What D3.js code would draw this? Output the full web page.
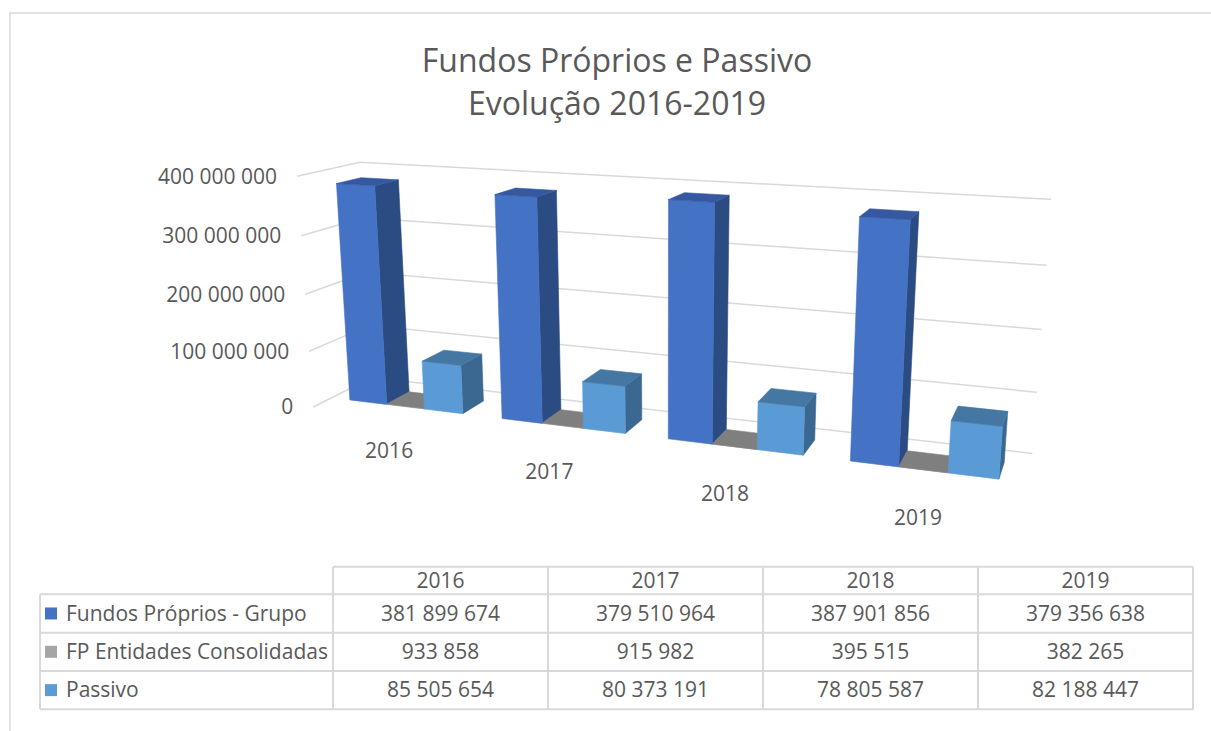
<!DOCTYPE html>
<html>
<head>
<meta charset="utf-8">
<script src="https://cdnjs.cloudflare.com/ajax/libs/d3/7.8.5/d3.min.js"></script>
<style>
    body { margin: 0; background: #fff; }
    svg { display: block; }
    text { font-family: "Open Sans", sans-serif; fill: #595959; }
</style>
</head>
<body>
<svg id="chart" width="1211" height="731"></svg>
<script>
// data
var years = ["2016", "2017", "2018", "2019"];
var seriesNames = ["Fundos Próprios - Grupo", "FP Entidades Consolidadas", "Passivo"];
var fundosGrupo = [381899674, 379510964, 387901856, 379356638];
var fpEntidades = [933858, 915982, 395515, 382265];
var passivo = [85505654, 80373191, 78805587, 82188447];
var yTicks = [0, 100000000, 200000000, 300000000, 400000000];

var seriesValues = [fundosGrupo, fpEntidades, passivo];
var faceColors = [
    {front: "#4472c4", top: "#3558a0", side: "#2b4b83"},
    {front: "#a5a5a5", top: "#7f7f7f", side: "#6d6d6d"},
    {front: "#5b9bd5", top: "#4577a3", side: "#3a6891"}
];

var svg = d3.select("#chart");

// outer chart frame
svg.append("rect")
    .attr("x", 10).attr("y", 13)
    .attr("width", 1230).attr("height", 760)
    .attr("fill", "none")
    .attr("stroke", "#d9d9d9")
    .attr("stroke-width", 1.5);

// title
var title = svg.append("text")
    .attr("text-anchor", "middle")
    .attr("font-size", 32);
title.append("tspan").attr("x", 617).attr("y", 72).text("Fundos Próprios e Passivo");
title.append("tspan").attr("x", 617).attr("y", 115).text("Evolução 2016-2019");

// world scales: x = category axis, y = value, z = depth (0 front, 1 back wall)
var xBand = d3.scaleBand().domain(years).range([0, 4]);
var xSub = d3.scaleBand().domain(seriesNames).range([0, 1]).paddingInner(0).paddingOuter(0.5);
var yScale = d3.scaleLinear().domain([0, 400000000]).range([0, 4]);
var barZ = [0.3, 0.7];

// screen position of the plot box corners (left wall front edge, back wall edges)
var frameWorld = [
    [0, 4, 0], [0, 3, 0], [0, 2, 0], [0, 1, 0], [0, 0, 0],
    [0, 4, 1], [0, 0, 1],
    [4, 4, 1], [4, 3, 1], [4, 2, 1], [4, 1, 1], [4, 0, 1]
];
var frameScreen = [
    [296.7, 176], [301.7, 236], [305, 294], [309.3, 351.7], [313.3, 406.7],
    [360, 162.3], [372, 377.6],
    [1051, 199.3], [1046.3, 265.3], [1041.7, 329.3], [1036.7, 392.5], [1032.5, 453.3]
];

// fit a 3x4 perspective camera to the frame (DLT, least squares)
function solveCamera(world, screen) {
    var rows = [], rhs = [];
    world.forEach(function (w, i) {
        var X = w[0], Y = w[1], Z = w[2], u = screen[i][0], v = screen[i][1];
        rows.push([X, Y, Z, 1, 0, 0, 0, 0, -u * X, -u * Y, -u * Z]); rhs.push(u);
        rows.push([0, 0, 0, 0, X, Y, Z, 1, -v * X, -v * Y, -v * Z]); rhs.push(v);
    });
    var n = 11, M = [];
    for (var a = 0; a < n; a++) {
        M.push([]);
        for (var b = 0; b <= n; b++) {
            var s = 0;
            for (var r = 0; r < rows.length; r++) s += rows[r][a] * (b < n ? rows[r][b] : rhs[r]);
            M[a].push(s);
        }
    }
    for (var c = 0; c < n; c++) {
        var piv = c;
        for (var r2 = c + 1; r2 < n; r2++) if (Math.abs(M[r2][c]) > Math.abs(M[piv][c])) piv = r2;
        var tmp = M[c]; M[c] = M[piv]; M[piv] = tmp;
        for (var r3 = 0; r3 < n; r3++) {
            if (r3 === c) continue;
            var f = M[r3][c] / M[c][c];
            for (var k = c; k <= n; k++) M[r3][k] -= f * M[c][k];
        }
    }
    return M.map(function (row, i) { return row[n] / row[i]; });
}

var P = solveCamera(frameWorld, frameScreen);

function project(p) {
    var w = P[8] * p[0] + P[9] * p[1] + P[10] * p[2] + 1;
    return [(P[0] * p[0] + P[1] * p[1] + P[2] * p[2] + P[3]) / w,
            (P[4] * p[0] + P[5] * p[1] + P[6] * p[2] + P[7]) / w];
}

var line = d3.line();
function poly(pts) { return line(pts.map(project)) + "Z"; }

// gridlines on side wall and back wall
svg.append("g")
    .selectAll("path")
    .data(yTicks)
    .enter().append("path")
    .attr("d", function (t) {
        var y = yScale(t);
        return line([[0, y, 0], [0, y, 1], [4, y, 1]].map(project));
    })
    .attr("fill", "none")
    .attr("stroke", "#d9d9d9")
    .attr("stroke-width", 1.5);

// value axis labels
var fmt = function (v) { return d3.format(",")(v).replace(/,/g, " "); };
svg.append("g")
    .selectAll("text")
    .data(yTicks)
    .enter().append("text")
    .attr("x", function (t) { return project([0, yScale(t), 0])[0] - 20; })
    .attr("y", function (t) { return project([0, yScale(t), 0])[1]; })
    .attr("dy", "0.35em")
    .attr("text-anchor", "end")
    .attr("font-size", 21)
    .text(fmt);

// bars
var bars = [];
years.forEach(function (yr, i) {
    seriesNames.forEach(function (s, j) {
        bars.push({year: yr, key: s, si: j, value: seriesValues[j][i]});
    });
});

var barG = svg.append("g")
    .selectAll("g")
    .data(bars)
    .enter().append("g");

barG.each(function (d) {
    var g = d3.select(this);
    var x0 = xBand(d.year) + xSub(d.key), x1 = x0 + xSub.bandwidth();
    var y1 = yScale(d.value), z0 = barZ[0], z1 = barZ[1];
    var c = faceColors[d.si];
    var faces = [
        {pts: [[x1, 0, z0], [x1, 0, z1], [x1, y1, z1], [x1, y1, z0]], fill: c.side},
        {pts: [[x0, 0, z0], [x1, 0, z0], [x1, y1, z0], [x0, y1, z0]], fill: c.front},
        {pts: [[x0, y1, z0], [x1, y1, z0], [x1, y1, z1], [x0, y1, z1]], fill: c.top}
    ];
    g.selectAll("path")
        .data(faces)
        .enter().append("path")
        .attr("d", function (f) { return poly(f.pts); })
        .attr("fill", function (f) { return f.fill; })
        .attr("stroke", function (f) { return f.fill; })
        .attr("stroke-width", 0.6)
        .attr("stroke-linejoin", "round");
});

// category labels under the floor front edge
svg.append("g")
    .selectAll("text")
    .data(years)
    .enter().append("text")
    .attr("x", function (yr) { return project([xBand(yr) + 0.5, 0, 0])[0] + 1; })
    .attr("y", function (yr) { return project([xBand(yr) + 0.5, 0, 0])[1] + 42; })
    .attr("text-anchor", "middle")
    .attr("font-size", 21)
    .text(function (yr) { return yr; });

// data table
var colX = d3.scaleBand().domain(years).range([333, 1193]);
var rowY = d3.scaleBand().domain(seriesNames).range([594.3, 709.3]);
var headTop = 566.7, tableLeft = 40;
var tbl = svg.append("g").attr("stroke", "#d9d9d9").attr("stroke-width", 2);

tbl.append("line").attr("x1", 333).attr("x2", 1193).attr("y1", headTop).attr("y2", headTop);
seriesNames.forEach(function (s) {
    tbl.append("line").attr("x1", tableLeft).attr("x2", 1193)
        .attr("y1", rowY(s)).attr("y2", rowY(s));
});
tbl.append("line").attr("x1", tableLeft).attr("x2", 1193).attr("y1", 709.3).attr("y2", 709.3);
tbl.append("line").attr("x1", tableLeft).attr("x2", tableLeft).attr("y1", 594.3).attr("y2", 709.3);
years.concat(["end"]).forEach(function (yr) {
    var x = yr === "end" ? 1193 : colX(yr);
    tbl.append("line").attr("x1", x).attr("x2", x).attr("y1", headTop).attr("y2", 709.3);
});

svg.append("g")
    .selectAll("text")
    .data(years)
    .enter().append("text")
    .attr("x", function (yr) { return colX(yr) + colX.bandwidth() / 2; })
    .attr("y", (headTop + 594.3) / 2)
    .attr("dy", "0.35em")
    .attr("text-anchor", "middle")
    .attr("font-size", 21)
    .text(function (yr) { return yr; });

var rowG = svg.append("g")
    .selectAll("g")
    .data(seriesNames)
    .enter().append("g")
    .attr("transform", function (s) { return "translate(0," + (rowY(s) + rowY.bandwidth() / 2) + ")"; });

rowG.append("rect")
    .attr("x", 45).attr("y", -6)
    .attr("width", 12).attr("height", 12)
    .attr("fill", function (s, j) { return faceColors[j].front; });

rowG.append("text")
    .attr("x", 66)
    .attr("dy", "0.35em")
    .attr("font-size", 21)
    .text(function (s) { return s; });

rowG.each(function (s, j) {
    d3.select(this).selectAll("text.val")
        .data(seriesValues[j])
        .enter().append("text")
        .attr("class", "val")
        .attr("x", function (v, i) { return colX(years[i]) + colX.bandwidth() / 2; })
        .attr("dy", "0.35em")
        .attr("text-anchor", "middle")
        .attr("font-size", 21)
        .text(fmt);
});
</script>
</body>
</html>
